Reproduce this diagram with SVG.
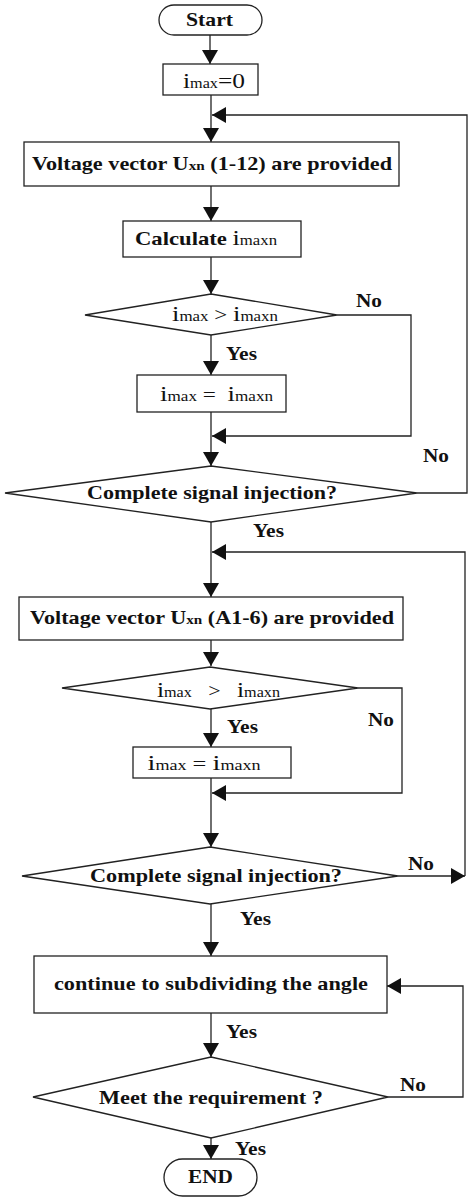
<svg xmlns="http://www.w3.org/2000/svg" width="474" height="1200" viewBox="0 0 474 1200">
<style>
.box{fill:#fff;stroke:#222;stroke-width:1.3}
.ln{fill:none;stroke:#222;stroke-width:1.3}
text{font-family:'Liberation Serif','DejaVu Serif','Times New Roman',serif}
.t{font-weight:bold;font-size:19px;fill:#111;text-anchor:middle}
.lb{font-weight:bold;font-size:19px;fill:#111}
.r{font-weight:normal}
.big{font-size:22px;font-weight:normal}
.sub{font-size:14px;font-weight:normal}
</style>
<defs>
<marker id="ah" viewBox="0 0 14 16" refX="14" refY="8" markerWidth="14" markerHeight="16" markerUnits="userSpaceOnUse" orient="auto">
<path d="M0,0 L14,8 L0,16 z" fill="#111"/>
</marker>
</defs>
<g id="connectors">
<path class="ln" d="M210,35 V64" marker-end="url(#ah)"/>
<path class="ln" d="M211,95 V142" marker-end="url(#ah)"/>
<path class="ln" d="M417,493 H467 V115 H212" marker-end="url(#ah)"/>
<path class="ln" d="M211,186 V221" marker-end="url(#ah)"/>
<path class="ln" d="M211,257 V294" marker-end="url(#ah)"/>
<path class="ln" d="M337,315 H411 V436 H212" marker-end="url(#ah)"/>
<path class="ln" d="M211,335 V375" marker-end="url(#ah)"/>
<path class="ln" d="M211,412 V466" marker-end="url(#ah)"/>
<path class="ln" d="M211,522 V597" marker-end="url(#ah)"/>
<path class="ln" d="M398,876 H465" marker-end="url(#ah)"/>
<path class="ln" d="M465,876 V552 H212" marker-end="url(#ah)"/>
<path class="ln" d="M211,640 V666" marker-end="url(#ah)"/>
<path class="ln" d="M358,688 H402 V793 H212" marker-end="url(#ah)"/>
<path class="ln" d="M211,709 V747" marker-end="url(#ah)"/>
<path class="ln" d="M211,778 V847" marker-end="url(#ah)"/>
<path class="ln" d="M211,904 V956" marker-end="url(#ah)"/>
<path class="ln" d="M211,1013 V1057" marker-end="url(#ah)"/>
<path class="ln" d="M388,1097 H463 V986 H387" marker-end="url(#ah)"/>
<path class="ln" d="M211,1138 V1159" marker-end="url(#ah)"/>
</g>
<g id="labels">
<text class="lb" x="356" y="307" textLength="26" lengthAdjust="spacingAndGlyphs">No</text>
<text class="lb" x="226" y="360" textLength="31" lengthAdjust="spacingAndGlyphs">Yes</text>
<text class="lb" x="423" y="462" textLength="26" lengthAdjust="spacingAndGlyphs">No</text>
<text class="lb" x="253" y="537" textLength="31" lengthAdjust="spacingAndGlyphs">Yes</text>
<text class="lb" x="368" y="726" textLength="26" lengthAdjust="spacingAndGlyphs">No</text>
<text class="lb" x="227" y="733" textLength="31" lengthAdjust="spacingAndGlyphs">Yes</text>
<text class="lb" x="408" y="870" textLength="26" lengthAdjust="spacingAndGlyphs">No</text>
<text class="lb" x="240" y="925" textLength="31" lengthAdjust="spacingAndGlyphs">Yes</text>
<text class="lb" x="226" y="1038" textLength="31" lengthAdjust="spacingAndGlyphs">Yes</text>
<text class="lb" x="400" y="1091" textLength="26" lengthAdjust="spacingAndGlyphs">No</text>
<text class="lb" x="235" y="1155" textLength="31" lengthAdjust="spacingAndGlyphs">Yes</text>
</g>
<g id="start">
<rect class="box" x="159" y="5" width="103" height="30" rx="15"/>
<text class="t" x="209.5" y="26" textLength="47" lengthAdjust="spacingAndGlyphs">Start</text>
</g>
<g id="init">
<rect class="box" x="163" y="64" width="95" height="31"/>
<text class="t" x="214" y="88" textLength="62" lengthAdjust="spacingAndGlyphs"><tspan class="big">i</tspan><tspan class="sub">max</tspan><tspan class="big">=0</tspan></text>
</g>
<g id="vec12">
<rect class="box" x="24" y="142" width="375" height="44"/>
<text class="t" x="212" y="170" textLength="360" lengthAdjust="spacingAndGlyphs">Voltage vector U<tspan font-size="13px">xn</tspan> (1-12) are provided</text>
</g>
<g id="calc">
<rect class="box" x="123" y="221" width="178" height="36"/>
<text class="t" x="206" y="245" textLength="142" lengthAdjust="spacingAndGlyphs">Calculate <tspan class="big">i</tspan><tspan class="sub">maxn</tspan></text>
</g>
<g id="cmp1">
<polygon class="box" points="211,294 337,315 211,335 85,315"/>
<text class="t" x="225" y="321" textLength="106" lengthAdjust="spacingAndGlyphs"><tspan class="big">i</tspan><tspan class="sub">max</tspan><tspan class="r"> &gt; </tspan><tspan class="big">i</tspan><tspan class="sub">maxn</tspan></text>
</g>
<g id="set1">
<rect class="box" x="137" y="375" width="149" height="37"/>
<text class="t" x="216.5" y="401" textLength="113" lengthAdjust="spacingAndGlyphs" xml:space="preserve"><tspan class="big">i</tspan><tspan class="sub">max</tspan><tspan class="r"> =  </tspan><tspan class="big">i</tspan><tspan class="sub">maxn</tspan></text>
</g>
<g id="done1">
<polygon class="box" points="211,466 417,493 211,522 5,493"/>
<text class="t" x="212" y="499" textLength="250" lengthAdjust="spacingAndGlyphs">Complete signal injection?</text>
</g>
<g id="vecA">
<rect class="box" x="19" y="597" width="384" height="43"/>
<text class="t" x="212" y="624" textLength="364" lengthAdjust="spacingAndGlyphs">Voltage vector U<tspan font-size="13px">xn</tspan> (A1-6) are provided</text>
</g>
<g id="cmp2">
<polygon class="box" points="210,667 358,688 210,709 62,688"/>
<text class="t" x="218.5" y="697" textLength="123" lengthAdjust="spacingAndGlyphs" xml:space="preserve"><tspan class="big">i</tspan><tspan class="sub">max</tspan><tspan class="r">   &gt;   </tspan><tspan class="big">i</tspan><tspan class="sub">maxn</tspan></text>
</g>
<g id="set2">
<rect class="box" x="133" y="747" width="158" height="31"/>
<text class="t" x="204" y="770" textLength="113" lengthAdjust="spacingAndGlyphs" xml:space="preserve"><tspan class="big">i</tspan><tspan class="sub">max</tspan><tspan class="r"> = </tspan><tspan class="big">i</tspan><tspan class="sub">maxn</tspan></text>
</g>
<g id="done2">
<polygon class="box" points="210,847 398,876 210,904 22,876"/>
<text class="t" x="216" y="882" textLength="252" lengthAdjust="spacingAndGlyphs">Complete signal injection?</text>
</g>
<g id="subdiv">
<rect class="box" x="34" y="956" width="353" height="57"/>
<text class="t" x="211" y="990" textLength="314" lengthAdjust="spacingAndGlyphs">continue to subdividing the angle</text>
</g>
<g id="meet">
<polygon class="box" points="211,1057 388,1097 211,1138 33,1097"/>
<text class="t" x="211" y="1104" textLength="224" lengthAdjust="spacingAndGlyphs">Meet the requirement ?</text>
</g>
<g id="end">
<rect class="box" x="164" y="1159" width="93" height="37" rx="18.5"/>
<text class="t" x="210.5" y="1183" textLength="45" lengthAdjust="spacingAndGlyphs">END</text>
</g>
</svg>
